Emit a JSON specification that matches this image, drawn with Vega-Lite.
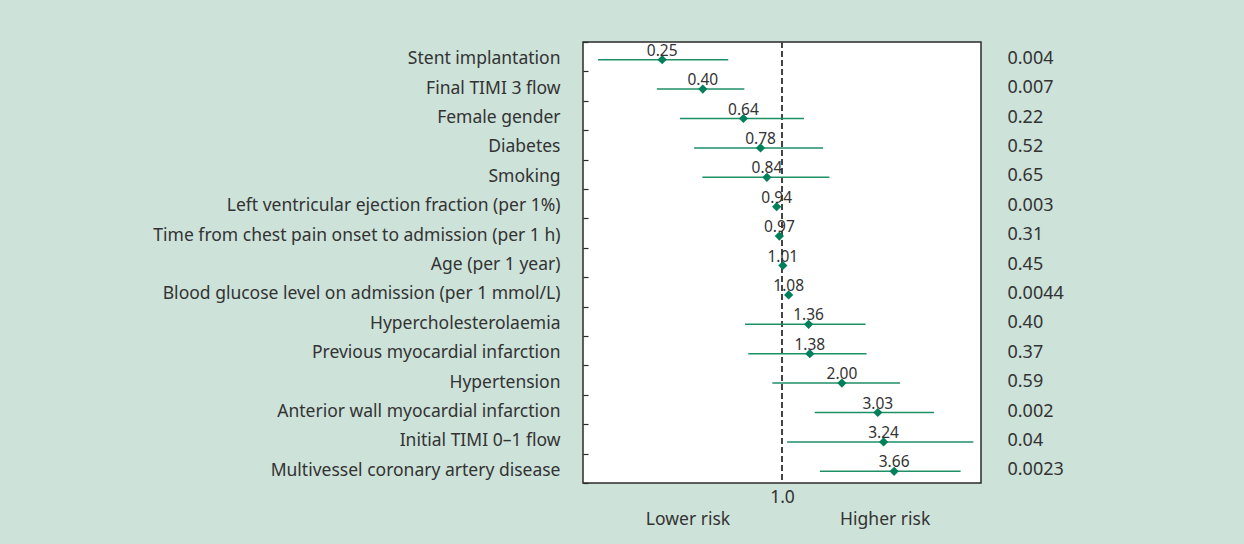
{
  "$schema": "https://vega.github.io/schema/vega-lite/v6.json",
  "autosize": "none",
  "width": 398,
  "height": 441,
  "padding": {"left": 583, "top": 42, "right": 263, "bottom": 61},
  "background": "#cde2d9",
  "config": {
    "font": "Noto Sans",
    "view": {"fill": "white", "stroke": "#2b2b2b", "strokeWidth": 1.5},
    "axis": {"labelFont": "Noto Sans", "labelColor": "#333333", "labelFontSize": 17.5, "domain": false, "grid": false}
  },
  "data": {
    "values": [
      {"factor": "Stent implantation", "or": 0.25, "lo": 0.119, "hi": 0.537, "orText": "0.25", "p": "0.004"},
      {"factor": "Final TIMI 3 flow", "or": 0.40, "lo": 0.235, "hi": 0.647, "orText": "0.40", "p": "0.007"},
      {"factor": "Female gender", "or": 0.64, "lo": 0.307, "hi": 1.29, "orText": "0.64", "p": "0.22"},
      {"factor": "Diabetes", "or": 0.78, "lo": 0.362, "hi": 1.61, "orText": "0.78", "p": "0.52"},
      {"factor": "Smoking", "or": 0.84, "lo": 0.398, "hi": 1.73, "orText": "0.84", "p": "0.65"},
      {"factor": "Left ventricular ejection fraction (per 1%)", "or": 0.94, "lo": 0.92, "hi": 0.96, "orText": "0.94", "p": "0.003"},
      {"factor": "Time from chest pain onset to admission (per 1 h)", "or": 0.97, "lo": 0.94, "hi": 1.0, "orText": "0.97", "p": "0.31"},
      {"factor": "Age (per 1 year)", "or": 1.01, "lo": 0.99, "hi": 1.03, "orText": "1.01", "p": "0.45"},
      {"factor": "Blood glucose level on admission (per 1 mmol/L)", "or": 1.08, "lo": 1.04, "hi": 1.12, "orText": "1.08", "p": "0.0044"},
      {"factor": "Hypercholesterolaemia", "or": 1.36, "lo": 0.652, "hi": 2.63, "orText": "1.36", "p": "0.40"},
      {"factor": "Previous myocardial infarction", "or": 1.38, "lo": 0.677, "hi": 2.66, "orText": "1.38", "p": "0.37"},
      {"factor": "Hypertension", "or": 2.00, "lo": 0.894, "hi": 3.92, "orText": "2.00", "p": "0.59"},
      {"factor": "Anterior wall myocardial infarction", "or": 3.03, "lo": 1.46, "hi": 5.81, "orText": "3.03", "p": "0.002"},
      {"factor": "Initial TIMI 0–1 flow", "or": 3.24, "lo": 1.06, "hi": 9.15, "orText": "3.24", "p": "0.04"},
      {"factor": "Multivessel coronary artery disease", "or": 3.66, "lo": 1.55, "hi": 7.9, "orText": "3.66", "p": "0.0023"}
    ]
  },
  "resolve": {"scale": {"y": "independent"}, "axis": {"y": "independent"}},
  "layer": [
    {
      "layer": [
        {
          "mark": {"type": "rule", "color": "#444444", "strokeWidth": 1.5, "strokeDash": [6, 3]},
          "encoding": {"x": {"datum": 1, "type": "quantitative"}}
        },
        {
          "mark": {"type": "rule", "color": "#1f8f66", "strokeWidth": 1.5, "yOffset": 3},
          "encoding": {
            "y": {
              "field": "factor", "type": "nominal", "sort": null,
              "scale": {"type": "band", "paddingInner": 0, "paddingOuter": 0},
              "axis": {"title": null, "orient": "left", "tickBand": "extent", "ticks": true, "tickSize": -5, "tickColor": "#2b2b2b", "tickWidth": 1.2, "labelPadding": 28, "labelOffset": 2, "labelLimit": 600}
            },
            "x": {
              "field": "lo", "type": "quantitative",
              "scale": {"type": "log", "domain": [0.1, 10], "nice": false},
              "axis": {
                "title": null, "orient": "bottom", "values": [0.335, 1, 3.28], "ticks": false,
                "labelPadding": 5, "labelBaseline": "top", "labelLineHeight": 22, "labelFlush": false,
                "labelExpr": "datum.value == 1 ? '1.0' : ['', datum.value < 1 ? 'Lower risk' : 'Higher risk']"
              }
            },
            "x2": {"field": "hi"}
          }
        },
        {
          "mark": {"type": "point", "shape": "diamond", "filled": true, "color": "#00805a", "opacity": 1, "size": 85, "yOffset": 3},
          "encoding": {
            "y": {"field": "factor", "type": "nominal", "sort": null},
            "x": {"field": "or", "type": "quantitative"}
          }
        }
      ]
    },
    {
      "mark": {"type": "text", "fontSize": 15.5, "color": "#333333", "baseline": "middle", "yOffset": -6},
      "encoding": {
        "y": {
          "field": "p", "type": "nominal", "sort": null,
          "scale": {"type": "band", "paddingInner": 0, "paddingOuter": 0},
          "axis": {"title": null, "orient": "right", "ticks": false, "labelPadding": 26, "labelOffset": 2, "labelFontSize": 18, "labelAlign": "left"}
        },
        "x": {"field": "or", "type": "quantitative"},
        "text": {"field": "orText"}
      }
    }
  ]
}
